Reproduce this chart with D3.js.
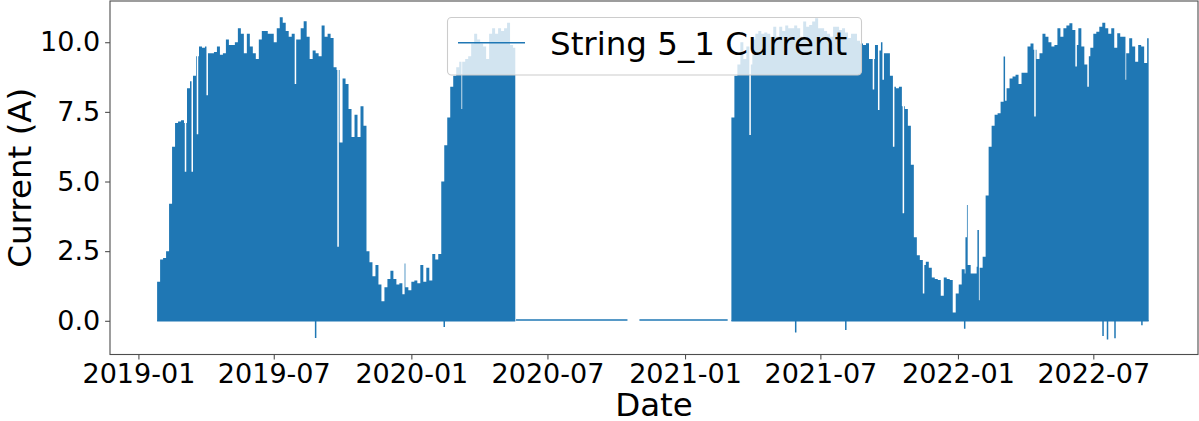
<!DOCTYPE html>
<html>
<head>
<meta charset="utf-8">
<script src="https://cdn.jsdelivr.net/npm/d3@7"></script>
<style>
  html, body { margin: 0; padding: 0; background: #fff; }
  svg { display: block; font-family: "DejaVu Sans", sans-serif; }
</style>
</head>
<body>
<svg id="chart" width="1199" height="421"></svg>
<script>
// ---- Data: daily peak current of string 5_1, sampled every 4 days ----
const sampleStepDays = 4;

const run1Start = "2019-01-26";
const run1End = "2020-05-19";
const run1Peaks = [
  1.4, 2.2, 2.25, 2.5, 4.2, 6.25, 7.1, 7.15, 7.2, 7.1,
  8.35, 8.6, 8.8, 9.5, 9.85, 9.8, 9.85, 9.6, 9.6, 9.65,
  9.85, 9.55, 9.6, 10.1, 9.9, 9.9, 10.0, 10.5, 10.3, 9.6,
  10.3, 9.85, 9.6, 9.4, 10.1, 10.4, 10.4, 10.3, 10.3, 10.0,
  10.5, 10.9, 10.7, 10.4, 10.2, 10.3, 10.1, 10.1, 10.5, 10.75,
  10.2, 9.4, 9.7, 9.6, 9.5, 10.6, 10.2, 10.3, 10.15, 9.1,
  9.0, 6.4, 8.7, 8.5, 7.6, 6.6, 7.4, 6.6, 7.7, 7.0,
  2.5, 2.1, 1.6, 2.0, 1.3, 0.7, 1.2, 1.5, 1.8, 1.5,
  1.3, 1.35, 0.95, 1.2, 1.1, 1.4, 1.45, 1.35, 2.0, 1.4,
  1.9, 1.45, 2.4, 2.2, 2.4, 5.0, 6.3, 7.3, 8.4, 8.8,
  9.1, 9.3, 9.3, 9.4, 9.5, 9.95, 10.3, 10.1, 9.95, 9.85,
  9.4, 10.3, 10.5, 10.3, 10.5, 10.4, 10.5, 10.7, 9.9, 9.8
];

const run2Start = "2021-03-04";
const run2End = "2022-09-13";
const run2Peaks = [
  7.3, 8.8, 9.2, 10.0, 9.4, 9.85, 9.2, 10.1, 10.3, 10.4,
  10.3, 10.35, 10.3, 10.2, 10.56, 10.2, 10.56, 10.4, 10.6, 10.5,
  10.5, 10.6, 10.5, 10.2, 10.74, 10.56, 10.62, 10.74, 10.86, 10.5,
  10.5, 10.4, 10.3, 10.2, 10.56, 10.56, 10.44, 10.5, 10.35, 10.15,
  10.3, 10.3, 10.05, 9.95, 9.9, 9.96, 9.4, 9.4, 9.9, 9.7,
  10.0, 9.6, 9.6, 8.8, 8.4, 8.35, 8.4, 7.7, 7.6, 7.0,
  5.6, 3.0, 2.35, 2.18, 2.0, 2.12, 1.9, 1.55, 1.5, 1.46,
  0.9, 1.55, 1.5, 1.46, 0.3, 0.98, 1.3, 1.85, 1.7, 2.0,
  1.7, 1.7, 1.94, 1.9, 2.3, 4.5, 6.25, 7.0, 7.4, 7.45,
  7.86, 7.9, 8.35, 8.7, 8.77, 8.83, 8.5, 8.9, 8.9, 9.85,
  9.95, 9.73, 9.4, 9.6, 10.3, 10.2, 10.0, 9.85, 9.9, 10.5,
  10.2, 10.5, 10.6, 10.68, 10.44, 9.9, 10.5, 9.85, 9.2, 9.5,
  9.8, 10.3, 10.38, 10.56, 10.7, 10.5, 10.3, 10.5, 9.8, 10.32,
  10.2, 10.2, 9.6, 10.14, 9.85, 9.3, 9.9, 9.85, 9.25, 10.14
];

// Inverter idle periods: the sensor reports a near-zero offset
const idleSpans = [["2020-05-20", "2020-10-16"], ["2020-11-01", "2021-02-27"]];
const idleLevel = 0.03;

// Single days whose peak differs strongly from the surrounding samples
const lowDays = [
  ["2019-03-04", 5.35], ["2019-03-13", 5.35], ["2019-03-20", 6.7], ["2019-04-02", 8.1],
  ["2019-07-29", 8.5], ["2019-09-24", 2.66], ["2020-03-08", 7.6], ["2021-03-28", 6.67],
  ["2021-09-09", 8.3], ["2021-09-16", 7.57], ["2021-09-22", 8.65], ["2021-10-06", 6.25],
  ["2021-10-19", 3.86], ["2021-11-15", 0.98], ["2022-01-29", 0.74], ["2022-04-13", 7.33],
  ["2022-06-07", 9.13], ["2022-06-23", 8.4], ["2022-08-13", 8.65]
];
const highDays = [
  ["2019-12-23", 2.06], ["2022-01-11", 3.0], ["2022-01-13", 4.16],
  ["2022-01-27", 3.26], ["2022-03-03", 9.49]
];
// Negative readings (sensor offset at night)
const belowZeroDays = [
  ["2019-08-26", -0.62], ["2020-02-14", -0.22], ["2021-05-29", -0.42],
  ["2021-08-04", -0.33], ["2022-01-10", -0.29], ["2022-07-14", -0.55],
  ["2022-07-20", -0.67], ["2022-07-30", -0.63], ["2022-09-04", -0.16]
];

const xTickDates = ["2019-01-01", "2019-07-01", "2020-01-01", "2020-07-01",
                    "2021-01-01", "2021-07-01", "2022-01-01", "2022-07-01"];
const yTickValues = [0, 2.5, 5.0, 7.5, 10.0];
const seriesName = "String 5_1 Current";
const xTitle = "Date";
const yTitle = "Current (A)";

// ---- Layout ----
const W = 1199, H = 421;
const plot = { left: 110, right: 1198, top: 1, bottom: 354.5 };
const color = "#1f77b4";
const frameColor = "#4d4d4d";
const tickFont = 27;
const labelFont = 32.5;
const eventWidthDays = 2;
const DAY = 864e5;

const parse = d3.utcParse("%Y-%m-%d");

const x = d3.scaleUtc()
  .domain([parse("2018-11-24"), parse("2022-11-18")])
  .range([plot.left, plot.right]);
const y = d3.scaleLinear()
  .domain([-1.21, 11.48])
  .range([plot.bottom, plot.top]);

const svg = d3.select("#chart");

svg.append("defs").append("clipPath").attr("id", "plot-clip")
  .append("rect")
  .attr("x", plot.left).attr("y", plot.top)
  .attr("width", plot.right - plot.left).attr("height", plot.bottom - plot.top);

const dataLayer = svg.append("g").attr("clip-path", "url(#plot-clip)");

// Build step points for a run: regular samples plus single-day outliers
function runPoints(start, end, peaks) {
  const t0 = parse(start), t1 = parse(end);
  const events = lowDays.concat(highDays)
    .map(([d, v]) => ({ t: parse(d), v }))
    .filter(e => e.t >= t0 && e.t < t1)
    .sort((a, b) => a.t - b.t);
  const base = peaks.map((v, i) => ({ t: new Date(+t0 + i * sampleStepDays * DAY), v }));
  const pts = [];
  base.forEach((b, i) => {
    pts.push(b);
    const next = i + 1 < base.length ? base[i + 1].t : t1;
    const inside = events.filter(e => e.t >= b.t && e.t < next);
    inside.forEach((e, j) => {
      const stop = j + 1 < inside.length ? inside[j + 1].t : next;
      pts.push({ t: e.t, v: e.v });
      pts.push({ t: new Date(Math.min(+e.t + eventWidthDays * DAY, +stop)), v: b.v });
    });
  });
  pts.push({ t: t1, v: peaks[peaks.length - 1] });
  return pts;
}

const area = d3.area()
  .curve(d3.curveStepAfter)
  .x(d => x(d.t))
  .y0(y(0))
  .y1(d => y(d.v));

const line = d3.line().x(d => x(d.t)).y(d => y(d.v));

const runs = [[run1Start, run1End, run1Peaks], [run2Start, run2End, run2Peaks]];

runs.forEach(([s, e, p]) => {
  dataLayer.append("path")
    .attr("d", area(runPoints(s, e, p)))
    .attr("fill", color);
  // nightly zero readings along the run
  dataLayer.append("path")
    .attr("d", line([{ t: parse(s), v: 0 }, { t: parse(e), v: 0 }]))
    .attr("fill", "none").attr("stroke", color).attr("stroke-width", 1.5);
});

idleSpans.forEach(([s, e]) => {
  dataLayer.append("path")
    .attr("d", line([{ t: parse(s), v: idleLevel }, { t: parse(e), v: idleLevel }]))
    .attr("fill", "none").attr("stroke", color).attr("stroke-width", 1.5);
});

belowZeroDays.forEach(([d, v]) => {
  const t = parse(d);
  dataLayer.append("path")
    .attr("d", line([{ t, v: 0 }, { t, v }]))
    .attr("fill", "none").attr("stroke", color).attr("stroke-width", 1.5);
});

// ---- Axes ----
const xAxis = d3.axisBottom(x)
  .tickValues(xTickDates.map(parse))
  .tickFormat(d3.utcFormat("%Y-%m"))
  .tickSize(4.9).tickSizeOuter(0).tickPadding(4.9);
const yAxis = d3.axisLeft(y)
  .tickValues(yTickValues)
  .tickFormat(d3.format(".1f"))
  .tickSize(4.9).tickSizeOuter(0).tickPadding(4.9);

const gx = svg.append("g").attr("transform", `translate(0,${plot.bottom})`).call(xAxis);
const gy = svg.append("g").attr("transform", `translate(${plot.left},0)`).call(yAxis);
[gx, gy].forEach(g => {
  g.select(".domain").remove();
  g.selectAll(".tick line").attr("stroke", frameColor).attr("stroke-width", 1.1);
  g.selectAll(".tick text")
    .attr("fill", "#000")
    .style("font-family", "'DejaVu Sans', sans-serif")
    .style("font-size", tickFont + "px");
});

// frame
svg.append("rect")
  .attr("x", plot.left).attr("y", plot.top)
  .attr("width", plot.right - plot.left).attr("height", plot.bottom - plot.top)
  .attr("fill", "none").attr("stroke", frameColor).attr("stroke-width", 1.1);

// axis titles
svg.append("text")
  .attr("x", (plot.left + plot.right) / 2).attr("y", 415.5)
  .attr("text-anchor", "middle")
  .style("font-size", labelFont + "px").attr("fill", "#000")
  .text(xTitle);
svg.append("text")
  .attr("transform", `translate(30.5,${(plot.top + plot.bottom) / 2}) rotate(-90)`)
  .attr("text-anchor", "middle")
  .style("font-size", labelFont + "px").attr("fill", "#000")
  .text(yTitle);

// ---- Legend ----
const legend = svg.append("g");
legend.append("rect")
  .attr("x", 447.5).attr("y", 17.5).attr("width", 414).attr("height", 57.5)
  .attr("rx", 4).attr("ry", 4)
  .attr("fill", "#fff").attr("fill-opacity", 0.8)
  .attr("stroke", "#cccccc").attr("stroke-width", 1.1);
legend.append("line")
  .attr("x1", 458).attr("x2", 525).attr("y1", 42.7).attr("y2", 42.7)
  .attr("stroke", color).attr("stroke-width", 1.5);
legend.append("text")
  .attr("x", 550).attr("y", 55)
  .style("font-size", labelFont + "px").attr("fill", "#000")
  .text(seriesName);
</script>
</body>
</html>
